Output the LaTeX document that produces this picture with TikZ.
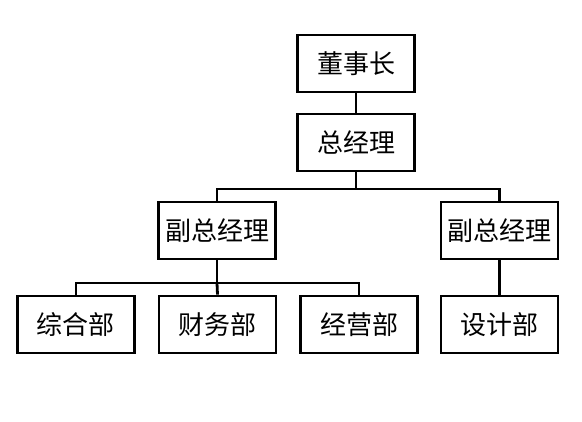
\documentclass[tikz,border=0pt]{standalone}
\usepackage{fontspec}
\newfontfamily\cjk{Noto Sans CJK SC}
\begin{document}
\begin{tikzpicture}[x=1pt,y=-1pt,
  orgbox/.style={draw=black,line width=2.8pt,fill=white,minimum width=117pt,minimum height=57pt,inner sep=0pt,font=\cjk\fontsize{26}{30}\selectfont},
  conn/.style={draw=black,line width=2.8pt}]
\useasboundingbox (0,0) rectangle (582,422);
\node[orgbox] (dsz) at (356,63.5) {董事长};
\node[orgbox] (zjl) at (356,142.5) {总经理};
\node[orgbox] (fzl) at (217,230.5) {副总经理};
\node[orgbox] (fzr) at (499.5,230.5) {副总经理};
\node[orgbox] (zhb) at (76,324.5) {综合部};
\node[orgbox] (cwb) at (217.5,324.5) {财务部};
\node[orgbox] (jyb) at (359,324.5) {经营部};
\node[orgbox] (sjb) at (499.5,324.5) {设计部};
\coordinate (bus1) at (356,189);
\coordinate (bus2) at (217,283);
\draw[conn] (dsz.south) -- (zjl.north);
\draw[conn] (zjl.south) -- (bus1);
\draw[conn] (fzl.north) |- (bus1) -| (fzr.north);
\draw[conn] (fzl.south) -- (bus2);
\draw[conn] (zhb.north) |- (bus2) -| (jyb.north);
\draw[conn] (bus2) -- (cwb.north);
\draw[conn] (fzr.south) -- (sjb.north);
\end{tikzpicture}
\end{document}
